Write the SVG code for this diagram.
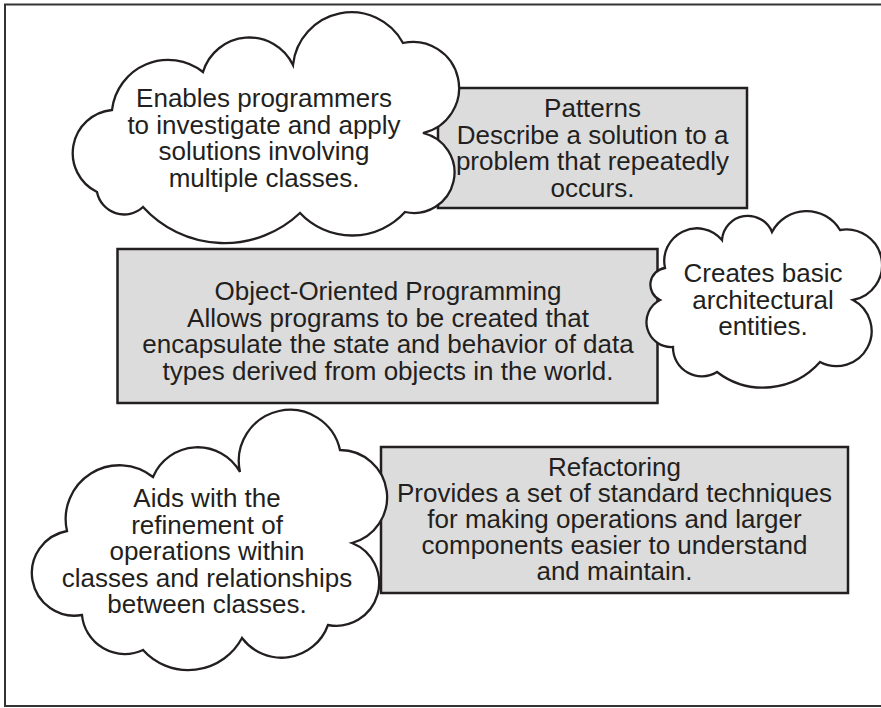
<svg xmlns="http://www.w3.org/2000/svg" width="881" height="708" viewBox="0 0 881 708">
<style>
.frame{fill:none;stroke:#333;stroke-width:2}
.box{fill:#dcdcdc;stroke:#231f20;stroke-width:2.5}
.cloud{fill:#fff;stroke:#231f20;stroke-width:2.3;stroke-linejoin:miter}
text{font-family:"Liberation Sans",Arial,Helvetica,sans-serif;font-size:26px;fill:#231f20;text-anchor:middle}
</style>
<rect class="frame" x="5" y="4.5" width="890" height="701.5"/>
<g id="connectors"></g>
<g id="patterns">
<rect class="box" x="438" y="88" width="309" height="120"/>
<text x="592.5" y="117">Patterns</text>
<text x="592.5" y="143.6">Describe a solution to a</text>
<text x="592.5" y="170.2">problem that repeatedly</text>
<text x="592.5" y="196.8">occurs.</text>
</g>
<g id="oop">
<rect class="box" x="117.5" y="249" width="540" height="154"/>
<text x="388" y="300">Object-Oriented Programming</text>
<text x="388" y="326.6">Allows programs to be created that</text>
<text x="388" y="353.2">encapsulate the state and behavior of data</text>
<text x="388" y="379.8">types derived from objects in the world.</text>
</g>
<g id="refactoring">
<rect class="box" x="381" y="447" width="467" height="146"/>
<text x="614.5" y="476">Refactoring</text>
<text x="614.5" y="502">Provides a set of standard techniques</text>
<text x="614.5" y="528">for making operations and larger</text>
<text x="614.5" y="554">components easier to understand</text>
<text x="614.5" y="580">and maintain.</text>
</g>
<g id="cloud-enables">
<path class="cloud" d="M97,192 A43.3,43.3 0 0 1 112,110 A56.4,56.4 0 0 1 203,72 A48.4,48.4 0 0 1 293,65 A58.7,58.7 0 0 1 403,43 A46,46 0 0 1 423,133 A40.5,40.5 0 0 1 405,212 A71.4,71.4 0 0 1 300,213 A110,110 0 0 1 143,207 A27.6,27.6 0 0 1 97,192 Z"/>
<text x="264" y="107">Enables programmers</text>
<text x="264" y="133.6">to investigate and apply</text>
<text x="264" y="160.2">solutions involving</text>
<text x="264" y="186.8">multiple classes.</text>
</g>
<g id="cloud-creates">
<path class="cloud" d="M665,268 A32.7,32.7 0 0 1 722,240 A26,26 0 0 1 772,232 A39,39 0 0 1 840,230 A35.5,35.5 0 0 1 853,300 A35,35 0 0 1 820,362 A76,76 0 0 1 717,372 A28.8,28.8 0 0 1 673,347 A24.9,24.9 0 0 1 660,300 A16.9,16.9 0 0 1 665,268 Z"/>
<text x="763" y="282">Creates basic</text>
<text x="763" y="308.6">architectural</text>
<text x="763" y="335.2">entities.</text>
</g>
<g id="cloud-aids">
<path class="cloud" d="M67,531 A53.8,53.8 0 0 1 153,477 A48.5,48.5 0 0 1 240,472 A51,51 0 0 1 340,450 A47.3,47.3 0 0 1 352,543 A42.9,42.9 0 0 1 328,625 A49.4,49.4 0 0 1 242,638 A61,61 0 0 1 143,650 A43,43 0 0 1 82,615 A42.5,42.5 0 0 1 67,531 Z"/>
<text x="207" y="507">Aids with the</text>
<text x="207" y="533.6">refinement of</text>
<text x="207" y="560.2">operations within</text>
<text x="207" y="586.8">classes and relationships</text>
<text x="207" y="613.4">between classes.</text>
</g>
</svg>
